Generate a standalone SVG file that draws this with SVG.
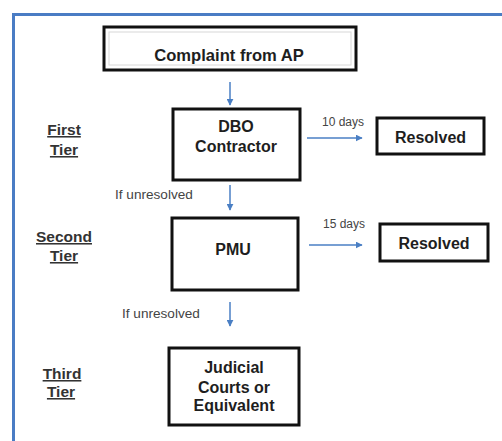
<svg xmlns="http://www.w3.org/2000/svg" width="502" height="441" viewBox="0 0 502 441">
<style>
.box{fill:#fff;stroke:#111;stroke-width:3}
.t{font-family:"Liberation Sans",Arial,sans-serif;font-weight:bold;font-size:16px;fill:#1e1e1e;text-anchor:middle}
.tier{font-family:"Liberation Sans",Arial,sans-serif;font-weight:bold;font-size:15.5px;fill:#333;text-anchor:middle;text-decoration:underline}
.lbl{font-family:"Liberation Sans",Arial,sans-serif;font-size:12px;fill:#444}
.lbl2{font-family:"Liberation Sans",Arial,sans-serif;font-size:13.6px;fill:#444}
.c{stroke:#4a7fc4;stroke-width:1.5;fill:none;marker-end:url(#ah)}
</style>
<defs>
<marker id="ah" viewBox="0 0 10 10" refX="9" refY="5" markerWidth="7" markerHeight="7" markerUnits="userSpaceOnUse" orient="auto">
<path d="M0,0 L10,5 L0,10 z" fill="#4a7fc4"/>
</marker>
</defs>
<rect x="0" y="0" width="502" height="441" fill="#fff"/>
<rect id="frame" x="13.5" y="14.5" width="500" height="440" fill="none" stroke="#4a7cc4" stroke-width="3"/>

<g id="tiers">
<text class="tier" x="64" y="135">First</text>
<text class="tier" x="64" y="155">Tier</text>
<text class="tier" x="64" y="242">Second</text>
<text class="tier" x="64" y="261">Tier</text>
<text class="tier" x="62" y="379">Third</text>
<text class="tier" x="61" y="397">Tier</text>
</g>

<g id="complaint">
<rect class="box" x="104" y="27" width="252" height="43"/>
<rect x="109" y="32" width="242" height="33" fill="none" stroke="#d8d8d8" stroke-width="1"/>
<text class="t" x="229" y="61" style="font-size:16.6px">Complaint from AP</text>
</g>

<g id="dbo">
<rect class="box" x="173" y="109" width="127" height="71"/>
<text class="t" x="236" y="132">DBO</text>
<text class="t" x="236" y="152">Contractor</text>
</g>

<g id="resolved1">
<rect class="box" x="377" y="118" width="107" height="36"/>
<text class="t" x="430.5" y="143">Resolved</text>
</g>

<g id="pmu">
<rect class="box" x="172" y="218" width="126" height="72"/>
<text class="t" x="233" y="255">PMU</text>
</g>

<g id="resolved2">
<rect class="box" x="380" y="224" width="108" height="37"/>
<text class="t" x="434" y="249">Resolved</text>
</g>

<g id="judicial">
<rect class="box" x="169" y="348" width="130" height="77"/>
<text class="t" x="234" y="373">Judicial</text>
<text class="t" x="234" y="393">Courts or</text>
<text class="t" x="234" y="411">Equivalent</text>
</g>

<g id="connectors">
<line class="c" x1="230" y1="82" x2="230" y2="105"/>
<line class="c" x1="307" y1="138" x2="362" y2="138"/>
<text class="lbl" x="322" y="126">10 days</text>
<line class="c" x1="230" y1="185" x2="230" y2="210"/>
<text class="lbl2" x="115" y="199">If unresolved</text>
<line class="c" x1="309" y1="245" x2="362" y2="245"/>
<text class="lbl" x="323" y="228">15 days</text>
<line class="c" x1="230" y1="302" x2="230" y2="326"/>
<text class="lbl2" x="122" y="318">If unresolved</text>
</g>
</svg>
